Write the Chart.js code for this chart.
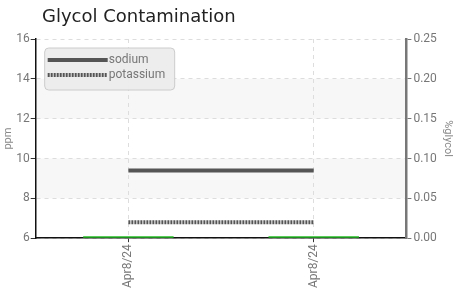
<!DOCTYPE html>
<html>
<head>
<meta charset="utf-8">
<script src="https://cdn.jsdelivr.net/npm/chart.js@4/dist/chart.umd.min.js"></script>
<style>
  html, body { margin: 0; padding: 0; background: #fff; }
  #wrap { position: relative; width: 462px; height: 294px; }
  #title {
    position: absolute; left: 42px; top: 5px;
    font-family: 'DejaVu Sans', sans-serif; font-size: 18px; color: #222;
  }
</style>
</head>
<body>
<div id="wrap">
  <canvas id="chart" width="462" height="294"></canvas>
  <div id="title">Glycol Contamination</div>
</div>
<script>
var categories = ["Apr8/24", "Apr8/24"];
var sodium = [9.4, 9.4];
var potassium = [6.8, 6.8];
var glycol = [0, 0];

var ppmTicks = { min: 6, max: 16, step: 2 };
var glycolTicks = { min: 0, max: 0.25, step: 0.05 };
var bands = [[8, 10], [12, 14]];

const tickFont = { family: "'Roboto', sans-serif", size: 12 };
const gridColor = "#dddddd";

// shaded bands behind the grid
const bandPlugin = {
    id: "bands",
    beforeDraw(chart) {
        const ctx = chart.ctx;
        const area = chart.chartArea;
        const y = chart.scales.y;
        ctx.save();
        ctx.fillStyle = "#f7f7f7";
        bands.forEach(b => {
            const top = y.getPixelForValue(b[1]);
            const bot = y.getPixelForValue(b[0]);
            ctx.fillRect(area.left, top, area.right - area.left, bot - top);
        });
        ctx.restore();
    }
};

// floating legend inside the plot
const boxLegend = {
    id: "boxLegend",
    afterDraw(chart) {
        const ctx = chart.ctx;
        const area = chart.chartArea;
        const x = area.left + 9, y = area.top + 9, w = 130, h = 42;
        ctx.save();
        ctx.beginPath();
        ctx.roundRect(x, y, w, h, 4);
        ctx.fillStyle = "rgba(236,236,236,0.95)";
        ctx.fill();
        ctx.strokeStyle = "#cccccc";
        ctx.lineWidth = 1;
        ctx.stroke();
        const items = chart.data.datasets.filter(d => d.type === "line");
        items.forEach((d, i) => {
            const ly = y + 12 + i * 15;
            ctx.beginPath();
            ctx.setLineDash(d.borderDash || []);
            ctx.lineWidth = d.borderWidth;
            ctx.strokeStyle = d.borderColor;
            ctx.moveTo(x + 3, ly);
            ctx.lineTo(x + 63, ly);
            ctx.stroke();
            ctx.setLineDash([]);
            ctx.fillStyle = "#777";
            ctx.font = "12px " + tickFont.family;
            ctx.textBaseline = "middle";
            ctx.fillText(d.label, x + 64, ly);
        });
        ctx.restore();
    }
};

new Chart(document.getElementById("chart"), {
    data: {
        labels: categories,
        datasets: [
            {
                type: "line", label: "sodium", data: sodium, yAxisID: "y",
                borderColor: "#555555", borderWidth: 4, pointRadius: 0, order: 1
            },
            {
                type: "line", label: "potassium", data: potassium, yAxisID: "y",
                borderColor: "#555555", borderWidth: 4, borderDash: [2, 1], pointRadius: 0, order: 1
            },
            {
                type: "bar", label: "glycol", data: glycol, yAxisID: "y1",
                backgroundColor: "#22bb22", minBarLength: 2, barPercentage: 0.61,
                categoryPercentage: 0.8, order: 2
            }
        ]
    },
    options: {
        responsive: false,
        animation: false,
        layout: { padding: { left: 2, right: 6, top: 39, bottom: 4 } },
        plugins: {
            legend: { display: false },
            tooltip: { enabled: false },
            title: { display: false }
        },
        scales: {
            x: {
                offset: true,
                grid: { color: gridColor, tickColor: "#333", tickLength: 4, offset: false },
                border: { color: "#111", width: 1.5, dash: [4, 4] },
                ticks: { color: "#777", font: tickFont, maxRotation: 90, minRotation: 90, padding: 2 }
            },
            y: {
                position: "left", min: ppmTicks.min, max: ppmTicks.max,
                grid: { color: gridColor, tickColor: "#333", tickLength: 5 },
                border: { color: "#111", width: 1.5, dash: [4, 4] },
                ticks: { stepSize: ppmTicks.step, color: "#777", font: tickFont, padding: 1 },
                title: { display: true, text: "ppm", color: "#888", font: { family: tickFont.family, size: 11 }, padding: 0 }
            },
            y1: {
                position: "right", min: glycolTicks.min, max: glycolTicks.max,
                grid: { drawOnChartArea: false, tickColor: "#777", tickLength: 5 },
                border: { color: "#777", width: 2.5 },
                ticks: {
                    stepSize: glycolTicks.step, color: "#777", font: tickFont, padding: 2,
                    callback: v => v.toFixed(2)
                },
                title: { display: true, text: "%glycol", color: "#888", font: { family: tickFont.family, size: 11 }, padding: 2 }
            }
        }
    },
    plugins: [bandPlugin, boxLegend]
});
</script>
</body>
</html>
